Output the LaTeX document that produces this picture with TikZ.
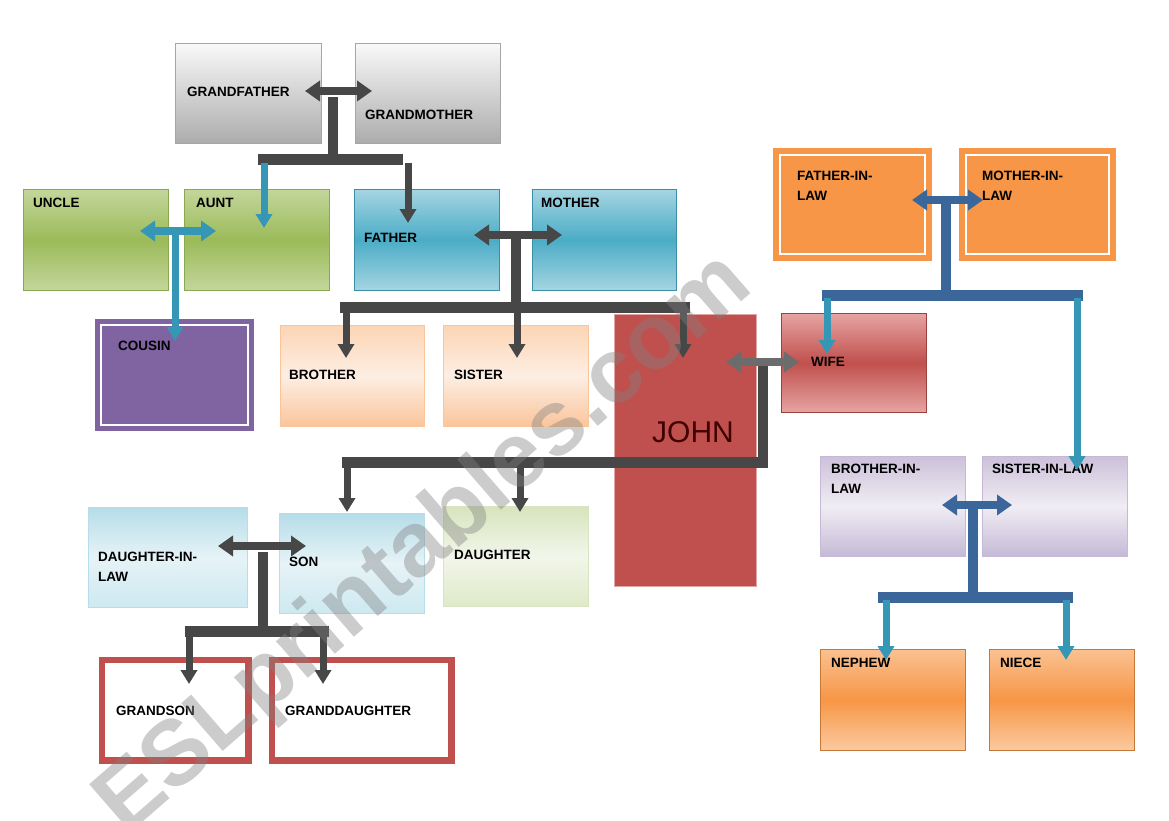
\documentclass[tikz,border=0pt]{standalone}
\usepackage{fontspec}
\setmainfont{Liberation Sans}
\usetikzlibrary{arrows.meta}
\definecolor{dgray}{HTML}{474747}
\definecolor{teal1}{HTML}{3596B5}
\definecolor{blue1}{HTML}{3A6699}
\definecolor{redA}{HTML}{C0504D}
\definecolor{orA}{HTML}{F79646}
\definecolor{purA}{HTML}{8064A2}
\definecolor{grnT}{HTML}{C3D69B}
\definecolor{grnM}{HTML}{9BBB59}
\definecolor{grnB}{HTML}{8AA84F}
\definecolor{bluT}{HTML}{A5D5E2}
\definecolor{bluM}{HTML}{4BACC6}
\definecolor{bluB}{HTML}{3A8FA7}
\definecolor{lbT}{HTML}{B6DDE8}
\definecolor{lbM}{HTML}{E6F3F7}
\definecolor{lbB}{HTML}{CDE9F1}
\definecolor{lgT}{HTML}{D7E4BD}
\definecolor{lgM}{HTML}{F2F6EA}
\definecolor{lgB}{HTML}{DFE9C9}
\definecolor{peT}{HTML}{FCD5B4}
\definecolor{peM}{HTML}{FDEEE3}
\definecolor{peB}{HTML}{FAC59B}
\definecolor{laT}{HTML}{CCC1DA}
\definecolor{laM}{HTML}{F0EDF4}
\definecolor{laB}{HTML}{C5B9D6}
\definecolor{orT}{HTML}{FAC191}
\definecolor{orB}{HTML}{FBCAA0}
\definecolor{wiT}{HTML}{E6A4A2}
\tikzset{
  box/.style={rectangle, inner sep=0pt, anchor=north west, draw=#1, line width=0.8pt},
  lbl/.style={anchor=north west, inner sep=0pt, align=left, text=black,
              font=\bfseries\fontsize{13.5}{20}\selectfont},
  downarr/.style={draw=#1, line width=7pt, -{Triangle[width=16pt,length=14pt]}},
  duoarr/.style={draw=#1, line width=8pt, {Triangle[width=20pt,length=15pt]}-{Triangle[width=20pt,length=15pt]}},
  barline/.style={draw=#1, line width=11pt},
  stemline/.style={draw=#1, line width=10pt},
}
\begin{document}
\begin{tikzpicture}[x=1pt,y=-1pt]
\useasboundingbox (0,0) rectangle (1169,821);
\fill[white] (0,0) rectangle (1169,821);

% ---------- boxes ----------
\node[box=gray!70, minimum width=146pt, minimum height=100pt, top color=gray!5, bottom color=gray!65] (gf) at (175,43) {};
\node[box=gray!70, minimum width=145pt, minimum height=100pt, top color=gray!5, bottom color=gray!65] (gm) at (355,43) {};

\node[box=grnB, minimum width=145pt, minimum height=101pt, top color=grnT, bottom color=grnT, middle color=grnM] (uncle) at (23,189) {};
\node[box=grnB, minimum width=145pt, minimum height=101pt, top color=grnT, bottom color=grnT, middle color=grnM] (aunt) at (184,189) {};

\node[box=bluB, minimum width=145pt, minimum height=101pt, top color=bluT, bottom color=bluT, middle color=bluM] (father) at (354,189) {};
\node[box=bluB, minimum width=144pt, minimum height=101pt, top color=bluT, bottom color=bluT, middle color=bluM] (mother) at (532,189) {};

\node[box=purA, line width=2pt, fill=purA, minimum width=157pt, minimum height=110pt] (cousin) at (95,319) {};
\draw[white, line width=1.5pt] ([shift={(6,6)}]cousin.north west) rectangle ([shift={(-6,-6)}]cousin.south east);

\node[box=peB, minimum width=144pt, minimum height=101pt, top color=peT, bottom color=peB, middle color=peM] (brother) at (280,325) {};
\node[box=peB, minimum width=145pt, minimum height=101pt, top color=peT, bottom color=peB, middle color=peM] (sister) at (443,325) {};

\node[box=redA!50!white, fill=redA, minimum width=142pt, minimum height=272pt] (john) at (614,314) {};

\node[box=redA!80!black, minimum width=145pt, minimum height=99pt, top color=wiT, bottom color=wiT, middle color=redA] (wife) at (781,313) {};

\node[box=orA, line width=1pt, fill=orA, minimum width=158pt, minimum height=112pt] (fil) at (773,148) {};
\draw[white, line width=2.5pt] ([shift={(7,7)}]fil.north west) rectangle ([shift={(-7,-7)}]fil.south east);
\node[box=orA, line width=1pt, fill=orA, minimum width=156pt, minimum height=112pt] (mil) at (959,148) {};
\draw[white, line width=2.5pt] ([shift={(7,7)}]mil.north west) rectangle ([shift={(-7,-7)}]mil.south east);

\node[box=laB, minimum width=145pt, minimum height=100pt, top color=laT, bottom color=laB, middle color=laM] (bil) at (820,456) {};
\node[box=laB, minimum width=145pt, minimum height=100pt, top color=laT, bottom color=laB, middle color=laM] (sil) at (982,456) {};

\node[box=orA!80!black, minimum width=145pt, minimum height=101pt, top color=orT, bottom color=orB, middle color=orA] (nephew) at (820,649) {};
\node[box=orA!80!black, minimum width=145pt, minimum height=101pt, top color=orT, bottom color=orB, middle color=orA] (niece) at (989,649) {};

\node[box=lbT, minimum width=159pt, minimum height=100pt, top color=lbT, bottom color=lbB, middle color=lbM] (dil) at (88,507) {};
\node[box=lbT, minimum width=145pt, minimum height=100pt, top color=lbT, bottom color=lbB, middle color=lbM] (son) at (279,513) {};
\node[box=lgT, minimum width=145pt, minimum height=100pt, top color=lgT, bottom color=lgB, middle color=lgM] (daughter) at (443,506) {};

\node[box=redA, line width=4.5pt, fill=white, minimum width=148pt, minimum height=102pt] (gson) at (99,657) {};
\draw[redA, line width=1.3pt] ([shift={(5.5,5.5)}]gson.north west) rectangle ([shift={(-5.5,-5.5)}]gson.south east);
\node[box=redA, line width=4.5pt, fill=white, minimum width=181pt, minimum height=102pt] (gdau) at (269,657) {};
\draw[redA, line width=1.3pt] ([shift={(5.5,5.5)}]gdau.north west) rectangle ([shift={(-5.5,-5.5)}]gdau.south east);

% ---------- labels ----------
\node[lbl] (tgf) at (187,87) {GRANDFATHER};
\node[lbl] (tgm) at (365,110) {GRANDMOTHER};
\node[lbl] (tun) at (33,198) {UNCLE};
\node[lbl] (tau) at (196,198) {AUNT};
\node[lbl] (tfa) at (364,233) {FATHER};
\node[lbl] (tmo) at (541,198) {MOTHER};
\node[lbl] (tco) at (118,341) {COUSIN};
\node[lbl] (tbr) at (289,370) {BROTHER};
\node[lbl] (tsi) at (454,370) {SISTER};
\node[anchor=north west, inner sep=0pt, text=red!25!black, font=\fontsize{30}{30}\selectfont] (tjo) at (652,421) {JOHN};
\node[lbl] (twi) at (811,357) {WIFE};
\node[lbl] (tfil) at (797,171) {FATHER-IN-\\LAW};
\node[lbl] (tmil) at (982,171) {MOTHER-IN-\\LAW};
\node[lbl] (tbil) at (831,464) {BROTHER-IN-\\LAW};
\node[lbl] (tsil) at (992,464) {SISTER-IN-LAW};
\node[lbl] (tne) at (831,658) {NEPHEW};
\node[lbl] (tni) at (1000,658) {NIECE};
\node[lbl] (tdil) at (98,552) {DAUGHTER-IN-\\LAW};
\node[lbl] (tso) at (289,557) {SON};
\node[lbl] (tda) at (454,550) {DAUGHTER};
\node[lbl] (tgs) at (116,706) {GRANDSON};
\node[lbl] (tgd) at (285,706) {GRANDDAUGHTER};

% ---------- junction coordinates ----------
% grandparents
\coordinate (gpL) at (305,91);  \coordinate (gpR) at (372,91);
\coordinate (gpM) at (333,97);  \coordinate (gpB) at (333,165);
\coordinate (gpb1) at (258,160); \coordinate (gpb2) at (403,160);
\coordinate (gpd1) at (264,163); \coordinate (gpt1) at (264,228);
\coordinate (gpd2) at (408,163); \coordinate (gpt2) at (408,223);
% uncle / aunt
\coordinate (uaL) at (140,231); \coordinate (uaR) at (216,231);
\coordinate (uaM) at (175,231); \coordinate (uaT) at (175,341);
% parents
\coordinate (paL) at (474,235); \coordinate (paR) at (562,235);
\coordinate (paM) at (516,238); \coordinate (paB) at (516,308);
\coordinate (pab1) at (340,307); \coordinate (pab2) at (690,307);
\coordinate (pad1) at (346,310); \coordinate (pat1) at (346,358);
\coordinate (pad2) at (517,310); \coordinate (pat2) at (517,358);
\coordinate (pad3) at (683,310); \coordinate (pat3) at (683,358);
% john / wife
\coordinate (jwL) at (726,362); \coordinate (jwR) at (799,362);
\coordinate (jwM) at (763,362); \coordinate (jwB) at (763,467);
\coordinate (jwb1) at (342,462); \coordinate (jwb2) at (768,462);
\coordinate (jwd1) at (347,465); \coordinate (jwt1) at (347,512);
\coordinate (jwd2) at (520,465); \coordinate (jwt2) at (520,512);
% in-laws
\coordinate (ilL) at (912,200); \coordinate (ilR) at (983,200);
\coordinate (ilM) at (946,203); \coordinate (ilB) at (946,299);
\coordinate (ilb1) at (822,295); \coordinate (ilb2) at (1083,295);
\coordinate (ild1) at (827,298); \coordinate (ilt1) at (827,354);
\coordinate (ild2) at (1077,298); \coordinate (ilt2) at (1077,470);
% brother/sister in law
\coordinate (bsL) at (942,505); \coordinate (bsR) at (1012,505);
\coordinate (bsM) at (973,509); \coordinate (bsB) at (973,600);
\coordinate (bsb1) at (878,597); \coordinate (bsb2) at (1073,597);
\coordinate (bsd1) at (886,600); \coordinate (bst1) at (886,660);
\coordinate (bsd2) at (1066,600); \coordinate (bst2) at (1066,660);
% son / daughter-in-law
\coordinate (sdL) at (218,546); \coordinate (sdR) at (306,546);
\coordinate (sdM) at (263,552); \coordinate (sdB) at (263,634);
\coordinate (sdb1) at (185,631); \coordinate (sdb2) at (329,631);
\coordinate (sdd1) at (189,634); \coordinate (sdt1) at (189,684);
\coordinate (sdd2) at (323,634); \coordinate (sdt2) at (323,684);

% ---------- connectors ----------
\draw[stemline=dgray] (gpM) -- (gpB);
\draw[barline=dgray] (gpb1) -- (gpb2);
\draw[duoarr=dgray] (gpL) -- (gpR);
\draw[downarr=teal1] (gpd1) -- (gpt1);
\draw[downarr=dgray] (gpd2) -- (gpt2);

\draw[downarr=teal1] (uaM) -- (uaT);
\draw[duoarr=teal1] (uaL) -- (uaR);

\draw[stemline=dgray] (paM) -- (paB);
\draw[barline=dgray] (pab1) -- (pab2);
\draw[duoarr=dgray] (paL) -- (paR);
\draw[downarr=dgray] (pad1) -- (pat1);
\draw[downarr=dgray] (pad2) -- (pat2);
\draw[downarr=dgray] (pad3) -- (pat3);

\draw[stemline=dgray] (jwM) -- (jwB);
\draw[barline=dgray] (jwb1) -- (jwb2);
\draw[duoarr=dgray!80] (jwL) -- (jwR);
\draw[downarr=dgray] (jwd1) -- (jwt1);
\draw[downarr=dgray] (jwd2) -- (jwt2);

\draw[stemline=blue1] (ilM) -- (ilB);
\draw[barline=blue1] (ilb1) -- (ilb2);
\draw[duoarr=blue1] (ilL) -- (ilR);
\draw[downarr=teal1] (ild1) -- (ilt1);
\draw[downarr=teal1] (ild2) -- (ilt2);

\draw[stemline=blue1] (bsM) -- (bsB);
\draw[barline=blue1] (bsb1) -- (bsb2);
\draw[duoarr=blue1] (bsL) -- (bsR);
\draw[downarr=teal1] (bsd1) -- (bst1);
\draw[downarr=teal1] (bsd2) -- (bst2);

\draw[stemline=dgray] (sdM) -- (sdB);
\draw[barline=dgray] (sdb1) -- (sdb2);
\draw[duoarr=dgray] (sdL) -- (sdR);
\draw[downarr=dgray] (sdd1) -- (sdt1);
\draw[downarr=dgray] (sdd2) -- (sdt2);

% ---------- watermark ----------
\node[rotate=41, text=gray, opacity=0.4, inner sep=0pt,
      font=\bfseries\fontsize{92}{92}\selectfont] (wm) at (425,545) {ESLprintables.com};
\end{tikzpicture}
\end{document}
